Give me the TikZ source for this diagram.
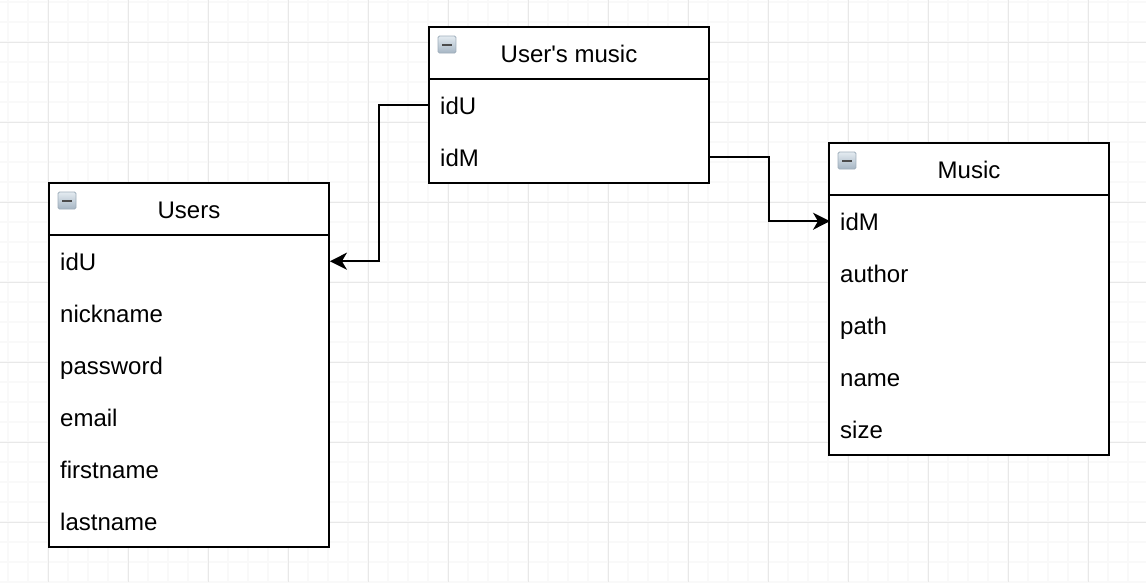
\documentclass[tikz,border=0pt]{standalone}
\usepackage{fontspec}
\setmainfont{Liberation Sans}
\usetikzlibrary{arrows.meta,calc}
\definecolor{gridminor}{HTML}{F9F9F9}
\definecolor{gridmajor}{HTML}{E8E8E8}
\definecolor{iconedge}{HTML}{9FAEBB}
\definecolor{icontop}{HTML}{E4EBF1}
\definecolor{iconbot}{HTML}{A6B6C4}
\tikzset{
  tablebox/.style={draw=black,line width=2pt,minimum width=280pt,inner sep=0pt,anchor=north west,fill=white},
  headrow/.style={draw=black,line width=2pt,minimum width=280pt,minimum height=52pt,inner sep=0pt,anchor=north west,font=\fontsize{24pt}{28pt}\selectfont,text height=20pt,text depth=2pt},
  fieldrow/.style={minimum width=280pt,minimum height=52pt,inner xsep=12pt,inner ysep=0pt,anchor=north west,align=left,text width=256pt,font=\fontsize{24pt}{28pt}\selectfont,text height=21pt,text depth=3pt},
  link/.style={draw=black,line width=2pt,-{Stealth[length=17pt,width=17pt,inset=5pt]}},
  minorline/.style={gridminor,line width=2pt},
  majorline/.style={gridmajor,line width=1pt},
  iconbox/.style={draw=iconedge,line width=0.8pt,rounded corners=1.5pt,top color=icontop,bottom color=iconbot},
  icondash/.style={draw=black!70,line width=2pt},
}
\begin{document}
\begin{tikzpicture}[x=1pt,y=-1pt]
\useasboundingbox (0,0) rectangle (1146,582);
\fill[white] (0,0) rectangle (1146,582);
% grid
\foreach \gx in {8,28,...,1146} {\draw[minorline] (\gx,0) -- (\gx,582);}
\foreach \gy in {2,22,...,582} {\draw[minorline] (0,\gy) -- (1146,\gy);}
\foreach \gx in {48,128,...,1146} {\draw[majorline] (\gx,0) -- (\gx,582);}
\foreach \gy in {42,122,...,582} {\draw[majorline] (0,\gy) -- (1146,\gy);}
% Users
\node[tablebox,minimum height=364pt] (usersbox) at (48,182) {};
\node[headrow] (usersh) at (48,182) {Users};
\node[fieldrow] (u1) at (48,235) {idU};
\node[fieldrow] (u2) at (48,287) {nickname};
\node[fieldrow] (u3) at (48,339) {password};
\node[fieldrow] (u4) at (48,391) {email};
\node[fieldrow] (u5) at (48,443) {firstname};
\node[fieldrow] (u6) at (48,495) {lastname};
% User's music
\node[tablebox,minimum height=156pt] (umbox) at (428,26) {};
\node[headrow] (umh) at (428,26) {User\textquotesingle s music};
\node[fieldrow] (m1) at (428,79) {idU};
\node[fieldrow] (m2) at (428,131) {idM};
% Music
\node[tablebox,minimum height=312pt] (musicbox) at (828,142) {};
\node[headrow] (musich) at (828,142) {Music};
\node[fieldrow] (k1) at (828,195) {idM};
\node[fieldrow] (k2) at (828,247) {author};
\node[fieldrow] (k3) at (828,299) {path};
\node[fieldrow] (k4) at (828,351) {name};
\node[fieldrow] (k5) at (828,403) {size};
% collapse icons
\foreach \ix/\iy in {58/192,438/36,838/152} {
  \draw[iconbox] (\ix,\iy) rectangle ++(18,17);
  \draw[icondash] (\ix+4,\iy+8.5) -- (\ix+14,\iy+8.5);
}
% connectors
\coordinate (elbowl) at (379,0);
\coordinate (elbowr) at (769,0);
\draw[link,shorten >=1.5pt] (m1.west) -| (elbowl |- u1.east) -- (u1.east);
\draw[link,shorten >=-2pt] (m2.east) -| (elbowr |- k1.west) -- (k1.west);
\end{tikzpicture}
\end{document}
